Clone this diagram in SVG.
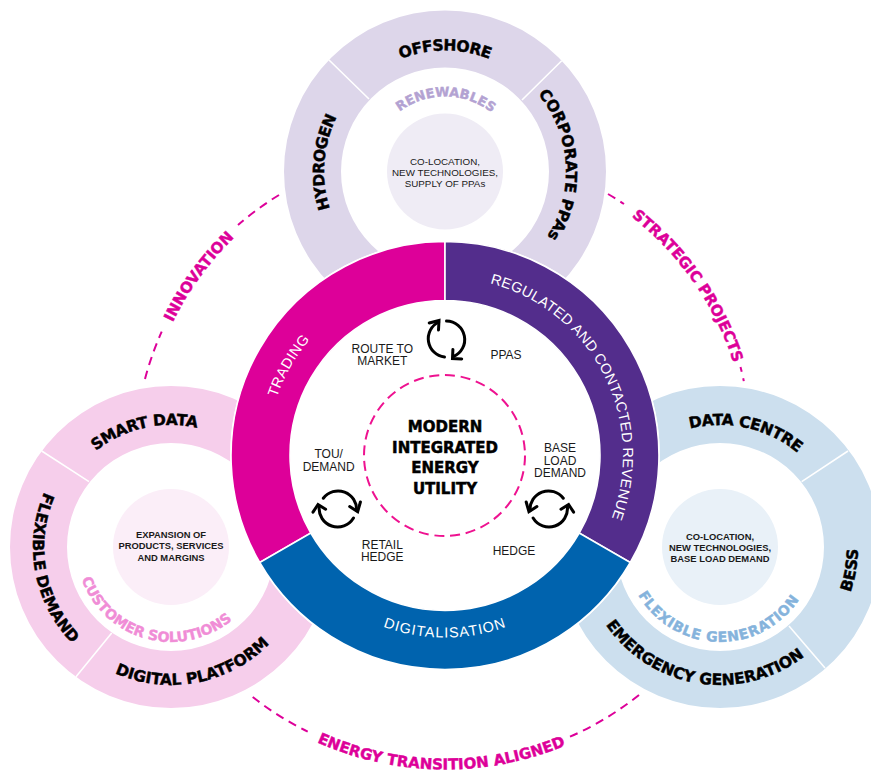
<svg xmlns="http://www.w3.org/2000/svg" width="871" height="772" viewBox="0 0 871 772">
<style>
.b{font-family:"DejaVu Sans",sans-serif;font-weight:700;fill:#000;stroke:#000;stroke-width:.45px}
.seg{font-size:15.5px}
.sub{font-size:14px}
.out{font-size:15px;fill:#DD0099;stroke:#DD0099}
.w{font-family:"Liberation Sans",sans-serif;font-size:14.5px;fill:#fff;letter-spacing:.3px}
.l{font-family:"Liberation Sans",sans-serif;font-size:12px;fill:#1a1a1a;text-anchor:middle}
.c{font-family:"Liberation Sans",sans-serif;font-size:9.8px;fill:#1a1a1a;text-anchor:middle}
.cb{font-family:"Liberation Sans",sans-serif;font-weight:700;font-size:9.4px;fill:#1a1a1a;text-anchor:middle}
.m{font-family:"DejaVu Sans",sans-serif;font-weight:700;font-size:15px;fill:#000;stroke:#000;stroke-width:.5px;text-anchor:middle}
.sep{stroke:#fff;stroke-width:1.6;fill:none}
.d{fill:none;stroke:#DD0099;stroke-width:2;stroke-dasharray:8.5 6}
.i{fill:none;stroke:#000;stroke-width:3;stroke-linecap:round;stroke-linejoin:miter}
.sect{stroke:#fff;stroke-width:1.6}
</style>
<defs>
<path id="t121" d="M445,292.5A121,121 0 1 1 445,50.5A121,121 0 1 1 445,292.5Z"/>
<path id="t75" d="M445,246.5A75,75 0 1 1 445,96.5A75,75 0 1 1 445,246.5Z"/>
<path id="l122" d="M171,669A122,122 0 1 1 171,425A122,122 0 1 1 171,669Z"/>
<path id="l138" d="M171,409A138,138 0 1 0 171,685A138,138 0 1 0 171,409Z"/>
<path id="l95" d="M171,452A95,95 0 1 0 171,642A95,95 0 1 0 171,452Z"/>
<path id="r122" d="M720,669A122,122 0 1 1 720,425A122,122 0 1 1 720,669Z"/>
<path id="r138" d="M720,409A138,138 0 1 0 720,685A138,138 0 1 0 720,409Z"/>
<path id="r95" d="M720,452A95,95 0 1 0 720,642A95,95 0 1 0 720,452Z"/>
<path id="m178" d="M445,633.5A178,178 0 1 1 445,277.5A178,178 0 1 1 445,633.5Z"/>
<path id="m182" d="M445,273.5A182,182 0 1 0 445,637.5A182,182 0 1 0 445,273.5Z"/>
<path id="o303" d="M445,758.5A303,303 0 1 1 445,152.5A303,303 0 1 1 445,758.5Z"/>
<path id="o314" d="M445,141.5A314,314 0 1 0 445,769.5A314,314 0 1 0 445,141.5Z"/>
<g id="cycle">
<path class="i" d="M0.8,-18A18.5,18.5 0 0 1 7.8,17.5"/>
<path class="i" d="M-1.2,18A18.5,18.5 0 0 1 -7,-17"/>
<path class="i" d="M7.2,10.5L6.8,19.5L16,20"/>
<path class="i" d="M-16.5,-16L-6.7,-18.5L-7.2,-9"/>
</g>
</defs>

<g id="connectors">
<path class="d" d="M145,379A308.5,308.5 0 0 1 161.7,331.7"/>
<path class="d" d="M279,195A308.5,308.5 0 0 0 238,225"/>
<path class="d" d="M608,194A308.5,308.5 0 0 1 624,204"/>
<path class="d" style="stroke-dasharray:5 6.5 3 50" d="M740.5,367A308.5,308.5 0 0 1 744,382"/>
<path class="d" d="M252.7,697A308.5,308.5 0 0 0 307.7,731.7"/>
<path class="d" d="M639,695A308.5,308.5 0 0 1 570,736.7"/>
<text class="b out"><textPath href="#o303" startOffset="35%" text-anchor="middle">INNOVATION</textPath></text>
<text class="b out"><textPath href="#o303" startOffset="65.3%" text-anchor="middle">STRATEGIC PROJECTS</textPath></text>
<text class="b out"><textPath href="#o314" startOffset="49.8%" text-anchor="middle">ENERGY TRANSITION ALIGNED</textPath></text>
</g>

<g id="node-renewables">
<path fill="#DDD6EA" fill-rule="evenodd" d="M284,171.5A161,161 0 1 1 606,171.5A161,161 0 1 1 284,171.5ZM341,171.5A104,104 0 1 0 549,171.5A104,104 0 1 0 341,171.5Z"/>
<path class="sep" d="M329,60L369,99M561.7,60.7L522,100"/>
<circle cx="445" cy="171.5" r="58" fill="#EFECF5"/>
<text class="b seg" letter-spacing="-.5"><textPath href="#t121" startOffset="50%" text-anchor="middle">OFFSHORE</textPath></text>
<text class="b seg" letter-spacing="-.6"><textPath href="#t121" startOffset="26.2%" text-anchor="middle">HYDROGEN</textPath></text>
<text class="b seg"><textPath href="#t121" startOffset="74%" text-anchor="middle">CORPORATE PPAs</textPath></text>
<text class="b" style="font-size:13px;fill:#B3A2D2;stroke:#B3A2D2"><textPath href="#t75" startOffset="50.2%" text-anchor="middle">RENEWABLES</textPath></text>
<text class="c" x="445" y="164.5">CO-LOCATION,</text>
<text class="c" x="445" y="175.5">NEW TECHNOLOGIES,</text>
<text class="c" x="445" y="187">SUPPLY OF PPAs</text>
</g>

<g id="node-customer-solutions">
<path fill="#F6CEEB" fill-rule="evenodd" d="M10,547A161,161 0 1 1 332,547A161,161 0 1 1 10,547ZM67,547A104,104 0 1 0 275,547A104,104 0 1 0 67,547Z"/>
<path class="sep" d="M41.7,451L89,481.7M76,676.7L111.7,633"/>
<circle cx="171" cy="547" r="58" fill="#FBEEF8"/>
<text class="b seg" letter-spacing="-.4"><textPath href="#l122" startOffset="46.4%" text-anchor="middle">SMART DATA</textPath></text>
<text class="b seg"><textPath href="#l138" startOffset="27.9%" text-anchor="middle">FLEXIBLE DEMAND</textPath></text>
<text class="b seg"><textPath href="#l138" startOffset="53%" text-anchor="middle">DIGITAL PLATFORM</textPath></text>
<text class="b sub" style="fill:#F08CD6;stroke:#F08CD6"><textPath href="#l95" startOffset="45.8%" text-anchor="middle">CUSTOMER SOLUTIONS</textPath></text>
<text class="cb" x="171" y="537.7">EXPANSION OF</text>
<text class="cb" x="171" y="549">PRODUCTS, SERVICES</text>
<text class="cb" x="171" y="560.7">AND MARGINS</text>
</g>

<g id="node-flexible-generation">
<path fill="#CCDFEE" fill-rule="evenodd" d="M559,547A161,161 0 1 1 881,547A161,161 0 1 1 559,547ZM616,547A104,104 0 1 0 824,547A104,104 0 1 0 616,547Z"/>
<path class="sep" d="M848,451L801.7,481.7M825,668L789,626"/>
<circle cx="720" cy="547" r="58" fill="#E9F1F8"/>
<text class="b seg" letter-spacing="-.4"><textPath href="#r122" startOffset="53.5%" text-anchor="middle">DATA CENTRE</textPath></text>
<text class="b seg"><textPath href="#r138" startOffset="72.2%" text-anchor="middle">BESS</textPath></text>
<text class="b seg"><textPath href="#r138" startOffset="47.5%" text-anchor="middle">EMERGENCY GENERATION</textPath></text>
<text class="b sub" style="fill:#85B3DC;stroke:#85B3DC;letter-spacing:.7px"><textPath href="#r95" startOffset="49.6%" text-anchor="middle">FLEXIBLE GENERATION</textPath></text>
<text class="cb" x="720" y="540">CO-LOCATION,</text>
<text class="cb" x="720" y="551">NEW TECHNOLOGIES,</text>
<text class="cb" x="720" y="562">BASE LOAD DEMAND</text>
</g>

<g id="node-core">
<circle cx="445" cy="455.5" r="214.8" fill="#fff"/>
<path class="sect" fill="#DD0099" d="M445,241.5A214,214 0 0 0 259.7,562.5L310.8,533A155,155 0 0 1 445,300.5Z"/>
<path class="sect" fill="#532D8C" d="M445,241.5A214,214 0 0 1 630.3,562.5L579.2,533A155,155 0 0 0 445,300.5Z"/>
<path class="sect" fill="#0063AE" d="M259.7,562.5A214,214 0 0 0 630.3,562.5L579.2,533A155,155 0 0 1 310.8,533Z"/>
<text class="w"><textPath href="#m178" startOffset="33.3%" text-anchor="middle">TRADING</textPath></text>
<text class="w"><textPath href="#m178" startOffset="67.4%" text-anchor="middle">REGULATED AND CONTACTED REVENUE</textPath></text>
<text class="w" style="letter-spacing:1px"><textPath href="#m182" startOffset="50%" text-anchor="middle">DIGITALISATION</textPath></text>
<circle cx="444.5" cy="455.5" r="80.5" fill="none" stroke="#EE1290" stroke-width="2" stroke-dasharray="10 5.8"/>
<text class="m" x="445" y="431.7">MODERN</text>
<text class="m" x="445" y="452.7">INTEGRATED</text>
<text class="m" x="445" y="473">ENERGY</text>
<text class="m" x="445" y="493.7">UTILITY</text>
<use href="#cycle" transform="translate(445.7,339)"/>
<use href="#cycle" transform="translate(338.3,508.3) rotate(120)"/>
<use href="#cycle" transform="translate(548.3,508.3) scale(-1,1) rotate(120)"/>
<text class="l" x="382.3" y="353">ROUTE TO</text>
<text class="l" x="382.3" y="364.5">MARKET</text>
<text class="l" x="506" y="359">PPAS</text>
<text class="l" x="560" y="452">BASE</text>
<text class="l" x="560" y="465">LOAD</text>
<text class="l" x="560" y="476.7">DEMAND</text>
<text class="l" x="328.7" y="458">TOU/</text>
<text class="l" x="328.7" y="470.7">DEMAND</text>
<text class="l" x="382.3" y="549">RETAIL</text>
<text class="l" x="382.3" y="560.7">HEDGE</text>
<text class="l" x="514" y="555">HEDGE</text>
</g>
</svg>
